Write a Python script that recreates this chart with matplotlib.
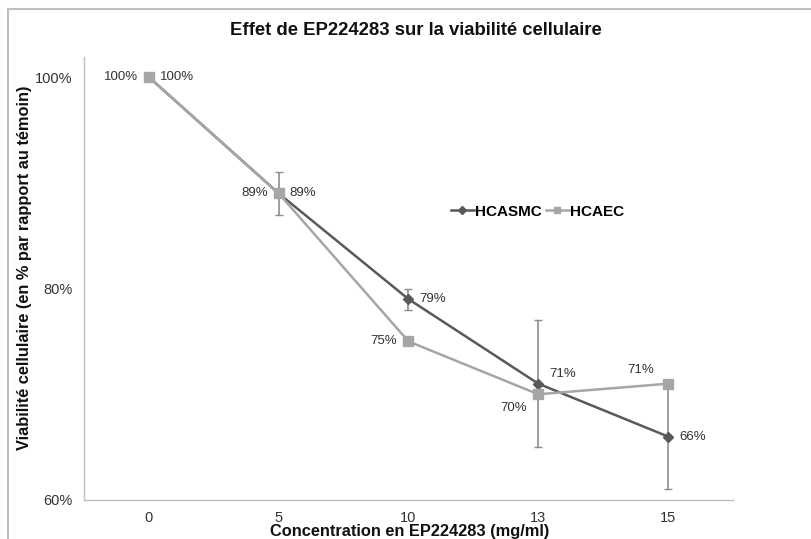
import matplotlib
matplotlib.use("Agg")
import matplotlib.pyplot as plt
from matplotlib.lines import Line2D

plt.rcParams['font.family'] = ['Liberation Sans', 'DejaVu Sans']

categories = ["0", "5", "10", "13", "15"]
hcasmc = [1.00, 0.89, 0.79, 0.71, 0.66]
hcasmc_err = [0.0, 0.02, 0.01, 0.06, 0.05]
hcaec = [1.00, 0.89, 0.75, 0.70, 0.71]
y_ticks = [0.6, 0.8, 1.0]
y_tick_labels = ["60%", "80%", "100%"]

c_smc = "#595959"
c_aec = "#A6A6A6"
c_err = "#8C8C8C"

fig = plt.figure(figsize=(8.12, 5.39), dpi=100)
ax = fig.add_axes([0.1034, 0.0724, 0.7993, 0.8218])
x = list(range(len(categories)))

ax.errorbar(x, hcasmc, yerr=hcasmc_err, fmt='none', ecolor=c_err, elinewidth=1.2,
            capsize=3, capthick=1, zorder=1)
ax.plot(x, hcasmc, color=c_smc, lw=1.8, zorder=2)
ax.plot(x, hcaec, color=c_aec, lw=1.8, zorder=3)
ax.plot(x, hcasmc, color=c_smc, lw=0, marker='D', ms=5, zorder=4)
ax.plot(x, hcaec, color=c_aec, lw=0, marker='s', ms=6.5, zorder=5)

fs = 9.5
tc = "#333333"
for i, v in enumerate(hcasmc):
    dy = 7 if i == 3 else 0
    ax.annotate(f"{round(v*100)}%", (i, v), xytext=(8, dy), textcoords='offset points',
                ha='left', va='center', fontsize=fs, color=tc)
for i, v in enumerate(hcaec):
    if i == len(hcaec) - 1:
        ax.annotate(f"{round(v*100)}%", (i, v), xytext=(-20, 10), textcoords='offset points',
                    ha='center', va='center', fontsize=fs, color=tc)
    elif i == 3:
        ax.annotate(f"{round(v*100)}%", (i, v), xytext=(-8, -10), textcoords='offset points',
                    ha='right', va='center', fontsize=fs, color=tc)
    else:
        ax.annotate(f"{round(v*100)}%", (i, v), xytext=(-8, 0), textcoords='offset points',
                    ha='right', va='center', fontsize=fs, color=tc)

ax.set_xlim(-0.5, len(categories) - 0.5)
ax.set_ylim(0.6, 1.019)
ax.set_yticks(y_ticks)
ax.set_yticklabels(y_tick_labels, fontsize=10.5, color=tc)
ax.set_xticks(x)
ax.set_xticklabels(categories, fontsize=10.5, color=tc)
ax.tick_params(axis='both', length=0, pad=8)
for s in ['top', 'right']:
    ax.spines[s].set_visible(False)
for s in ['left', 'bottom']:
    ax.spines[s].set_color("#BFBFBF")
    ax.spines[s].set_linewidth(1)

fig.text(0.512, 0.943, "Effet de EP224283 sur la viabilité cellulaire", ha='center', va='center',
         fontsize=13.3, fontweight='bold', color="#111111")
fig.text(0.505, 0.013, "Concentration en EP224283 (mg/ml)", ha='center', va='center',
         fontsize=11.8, fontweight='bold', color="#111111")
fig.text(0.030, 0.503, "Viabilité cellulaire (en % par rapport au témoin)", ha='center', va='center',
         rotation=90, fontsize=11.8, fontweight='bold', color="#111111")

handles = [Line2D([], [], color=c_smc, lw=1.8, marker='D', ms=4),
           Line2D([], [], color=c_aec, lw=1.8, marker='s', ms=5)]
fig.legend(handles, ["HCASMC", "HCAEC"], loc='center left', bbox_to_anchor=(0.538, 0.607),
           ncol=2, frameon=False, handlelength=1.5, handletextpad=0.1, columnspacing=0.25,
           prop={'weight': 'bold', 'size': 11})

# outer border
fig.add_artist(Line2D([8/812, 1.0], [1 - 9/539, 1 - 9/539], transform=fig.transFigure,
                      color="#BFBFBF", lw=1.5))
fig.add_artist(Line2D([8/812, 8/812], [0.0, 1 - 9/539], transform=fig.transFigure,
                      color="#BFBFBF", lw=1.5))

fig.savefig("out.png", dpi=100)
